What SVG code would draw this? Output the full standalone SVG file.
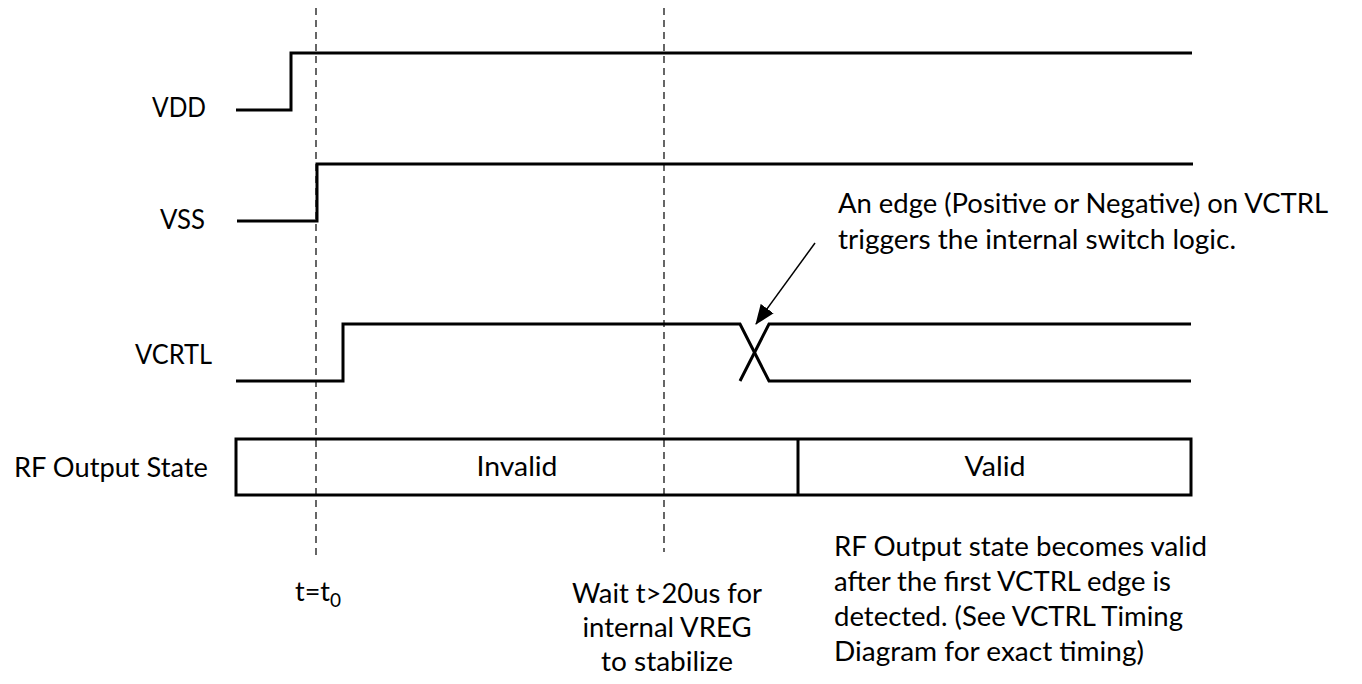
<svg xmlns="http://www.w3.org/2000/svg" width="1362" height="684" viewBox="0 0 1362 684">
<style>
.sig{fill:none;stroke:#000;stroke-width:3;stroke-linejoin:miter}
.dash{fill:none;stroke:#000;stroke-width:1.2;stroke-dasharray:7,5}
.t{font-family:Lato,"Liberation Sans",sans-serif;font-size:27px;fill:#000}
.lbl{text-anchor:end}
.mid{text-anchor:middle}
</style>
<defs>
<marker id="ah" viewBox="0 0 20 16" refX="19" refY="8" markerWidth="20" markerHeight="16" orient="auto" markerUnits="userSpaceOnUse">
<path d="M0,0 L20,8 L0,16 z" fill="#000"/>
</marker>
</defs>
<rect width="1362" height="684" fill="#fff"/>
<g id="markers-time">
<line class="dash" x1="316" y1="8" x2="316" y2="556"/>
<line class="dash" x1="664" y1="8" x2="664" y2="552"/>
</g>
<g id="vdd">
<text class="t lbl" x="206" y="117" textLength="54" lengthAdjust="spacingAndGlyphs">VDD</text>
<polyline class="sig" points="236,110 291,110 291,53 1192,53"/>
</g>
<g id="vss">
<text class="t lbl" x="205" y="229" textLength="45" lengthAdjust="spacingAndGlyphs">VSS</text>
<polyline class="sig" points="237,221 317,221 317,164 1193,164"/>
</g>
<g id="vcrtl">
<text class="t lbl" x="212" y="364" textLength="77" lengthAdjust="spacingAndGlyphs">VCRTL</text>
<polyline class="sig" points="236,381 343,381 343,324 740,324 769,381 1191,381"/>
<polyline class="sig" points="740,381 769,324 1191,324"/>
</g>
<g id="rf-output">
<text class="t lbl" x="208" y="477" textLength="194" lengthAdjust="spacingAndGlyphs">RF Output State</text>
<rect class="sig" x="236" y="439" width="955" height="56"/>
<line class="sig" x1="798" y1="439" x2="798" y2="495"/>
<text class="t mid" x="517" y="476" textLength="81" lengthAdjust="spacingAndGlyphs">Invalid</text>
<text class="t mid" x="995" y="476" textLength="61" lengthAdjust="spacingAndGlyphs">Valid</text>
</g>
<g id="connectors">
<line x1="815" y1="243" x2="756" y2="324" stroke="#000" stroke-width="1.5" marker-end="url(#ah)"/>
</g>
<g id="note-edge">
<text class="t" x="838" y="213" textLength="490" lengthAdjust="spacingAndGlyphs">An edge (Positive or Negative) on VCTRL</text>
<text class="t" x="838" y="249" textLength="398" lengthAdjust="spacingAndGlyphs">triggers the internal switch logic.</text>
</g>
<g id="note-t0">
<text class="t" x="295" y="601">t=t<tspan font-size="19" dy="6">0</tspan></text>
</g>
<g id="note-wait">
<text class="t mid" x="667" y="603" textLength="190" lengthAdjust="spacingAndGlyphs">Wait t&gt;20us for</text>
<text class="t mid" x="667" y="637" textLength="169" lengthAdjust="spacingAndGlyphs">internal VREG</text>
<text class="t mid" x="667" y="671" textLength="132" lengthAdjust="spacingAndGlyphs">to stabilize</text>
</g>
<g id="note-valid">
<text class="t" x="834" y="556" textLength="373" lengthAdjust="spacingAndGlyphs">RF Output state becomes valid</text>
<text class="t" x="834" y="591" textLength="337" lengthAdjust="spacingAndGlyphs">after the first VCTRL edge is</text>
<text class="t" x="834" y="626" textLength="349" lengthAdjust="spacingAndGlyphs">detected. (See VCTRL Timing</text>
<text class="t" x="834" y="661" textLength="310" lengthAdjust="spacingAndGlyphs">Diagram for exact timing)</text>
</g>
</svg>
